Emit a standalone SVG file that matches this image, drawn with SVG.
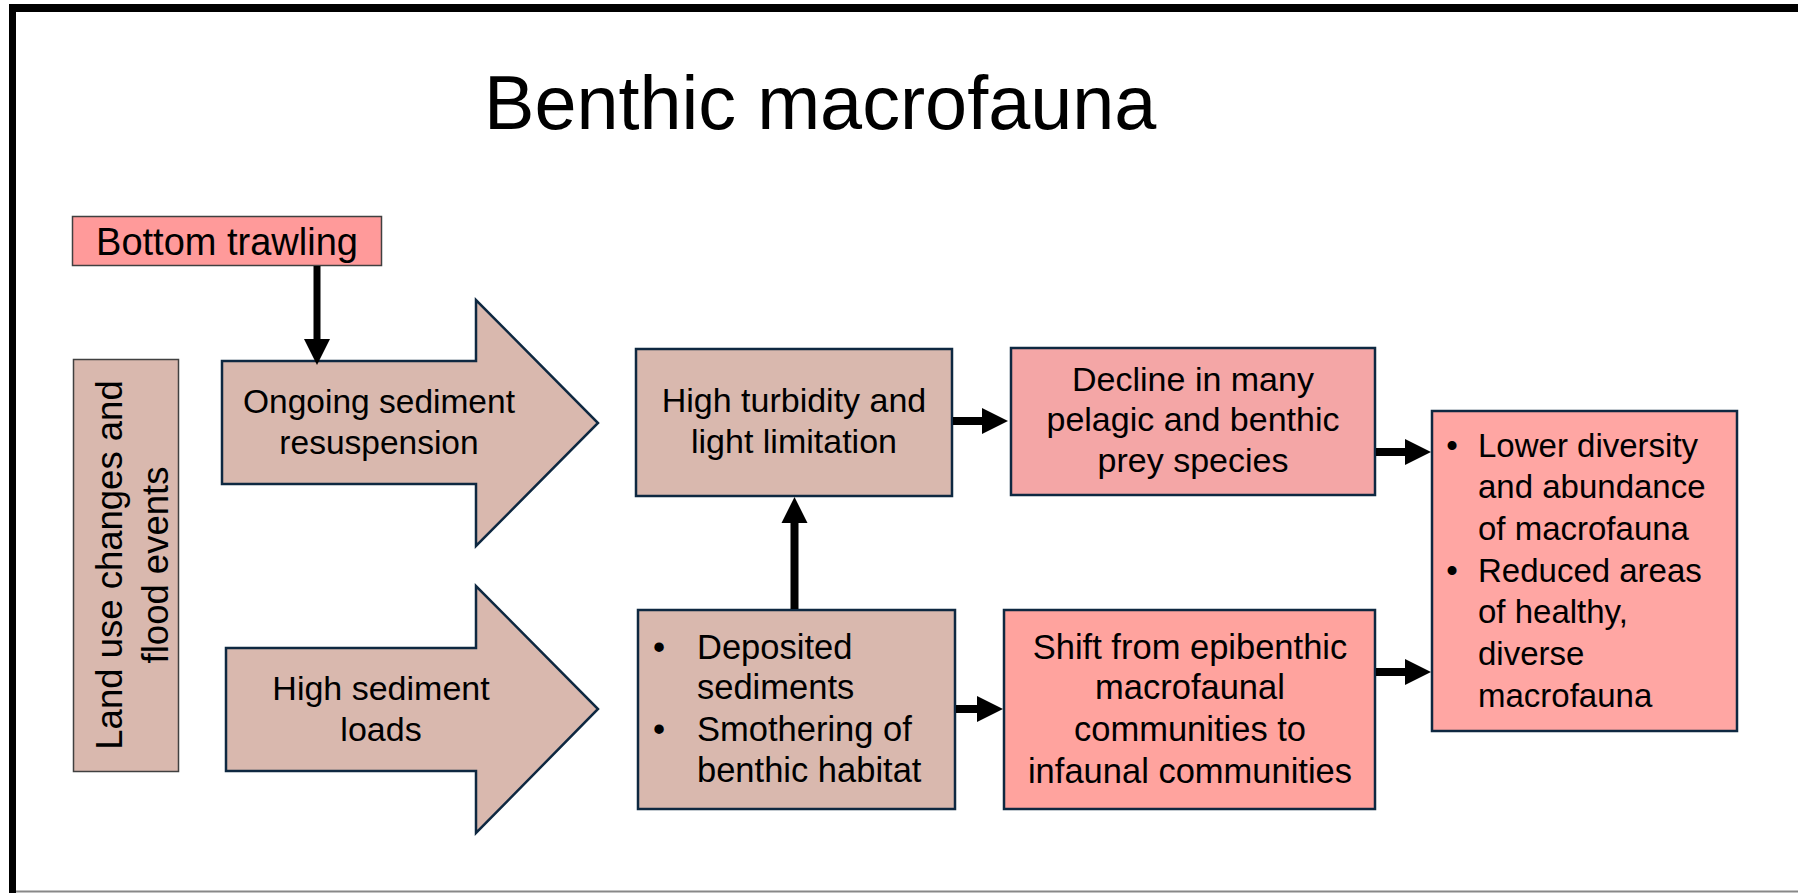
<svg xmlns="http://www.w3.org/2000/svg" width="1798" height="893" viewBox="0 0 1798 893">
<style>
text{font-family:"Liberation Sans",Arial,sans-serif;fill:#000}
.c{text-anchor:middle}
.brown{fill:#D9B8AE;stroke:#0E2841;stroke-width:2.5}
.ln{stroke:#000;stroke-width:8;fill:none}
.o{font-size:33px}
</style>
<defs>
<marker id="ah" markerUnits="userSpaceOnUse" markerWidth="27" markerHeight="27" refX="0" refY="13" orient="auto" overflow="visible">
<path d="M0,0 L26,13 L0,26 z" fill="#000"/>
</marker>
</defs>
<rect x="0" y="0" width="1798" height="893" fill="#fff"/>
<rect x="9" y="4" width="1789" height="8" fill="#000"/>
<rect x="9" y="4" width="7" height="889" fill="#000"/>
<line x1="16" y1="891.5" x2="1798" y2="891.5" stroke="#888" stroke-width="2"/>
<text id="title" x="484" y="129" font-size="75.6">Benthic macrofauna</text>

<g id="bottom-trawling">
<rect x="72.5" y="216.5" width="309" height="49" fill="#FF9A9A" stroke="#404040" stroke-width="1.5"/>
<text class="c" x="227" y="255" font-size="38">Bottom trawling</text>
</g>
<g id="land-use">
<rect x="73.5" y="359.5" width="105" height="412" fill="#D9B8AE" stroke="#404040" stroke-width="1.5"/>
<g transform="translate(122,565) rotate(-90)">
<text class="c" x="0" y="0" font-size="36.5">Land use changes and</text>
<text class="c" x="0" y="46" font-size="36.5">flood events</text>
</g>
</g>
<g id="ongoing">
<polygon class="brown" points="222,361 476,361 476,300 598,423 476,546 476,484 222,484"/>
<text class="c" x="379" y="413" font-size="33.5">Ongoing sediment</text>
<text class="c" x="379" y="454" font-size="33.5">resuspension</text>
</g>
<g id="high-sediment">
<polygon class="brown" points="226,648 476,648 476,586 598,709 476,833 476,771 226,771"/>
<text class="c" x="381" y="700" font-size="34">High sediment</text>
<text class="c" x="381" y="741" font-size="34">loads</text>
</g>
<g id="turbidity">
<rect class="brown" x="636" y="349" width="316" height="147"/>
<text class="c" x="794" y="412" font-size="34">High turbidity and</text>
<text class="c" x="794" y="453" font-size="34">light limitation</text>
</g>
<g id="deposited">
<rect class="brown" x="638" y="610" width="317" height="199"/>
<text class="c" x="659" y="659" font-size="34.5">•</text>
<text x="697" y="659" font-size="34.5">Deposited</text>
<text x="697" y="699" font-size="34.5">sediments</text>
<text class="c" x="659" y="741" font-size="34.5">•</text>
<text x="697" y="741" font-size="34.5">Smothering of</text>
<text x="697" y="782" font-size="34.5">benthic habitat</text>
</g>
<g id="decline">
<rect x="1011" y="348" width="364" height="147" fill="#F4A6A6" stroke="#0E2841" stroke-width="2.5"/>
<text class="c" x="1193" y="391" font-size="34">Decline in many</text>
<text class="c" x="1193" y="431" font-size="34">pelagic and benthic</text>
<text class="c" x="1193" y="472" font-size="34">prey species</text>
</g>
<g id="shift">
<rect x="1004" y="610" width="371" height="199" fill="#FFA39E" stroke="#0E2841" stroke-width="2.5"/>
<text class="c" x="1190" y="659" font-size="34.5">Shift from epibenthic</text>
<text class="c" x="1190" y="699" font-size="34.5">macrofaunal</text>
<text class="c" x="1190" y="741" font-size="34.5">communities to</text>
<text class="c" x="1190" y="783" font-size="34.5">infaunal communities</text>
</g>
<g id="outcome">
<rect x="1432" y="411" width="305" height="320" fill="#FFA6A3" stroke="#0E2841" stroke-width="2.5"/>
<text class="c o" x="1452" y="457">•</text>
<text class="o" x="1478" y="457">Lower diversity</text>
<text class="o" x="1478" y="498">and abundance</text>
<text class="o" x="1478" y="540">of macrofauna</text>
<text class="c o" x="1452" y="582">•</text>
<text class="o" x="1478" y="582">Reduced areas</text>
<text class="o" x="1478" y="623">of healthy,</text>
<text class="o" x="1478" y="665">diverse</text>
<text class="o" x="1478" y="707">macrofauna</text>
</g>
<g id="connectors">
<line x1="317" y1="266" x2="317" y2="339" stroke="#000" stroke-width="7" marker-end="url(#ah)"/>
<line class="ln" x1="953" y1="421" x2="982" y2="421" marker-end="url(#ah)"/>
<line class="ln" x1="956" y1="709" x2="977" y2="709" marker-end="url(#ah)"/>
<line class="ln" x1="794.5" y1="609" x2="794.5" y2="523" marker-end="url(#ah)"/>
<line class="ln" x1="1376" y1="452" x2="1405" y2="452" marker-end="url(#ah)"/>
<line class="ln" x1="1376" y1="672" x2="1405" y2="672" marker-end="url(#ah)"/>
</g>
</svg>
